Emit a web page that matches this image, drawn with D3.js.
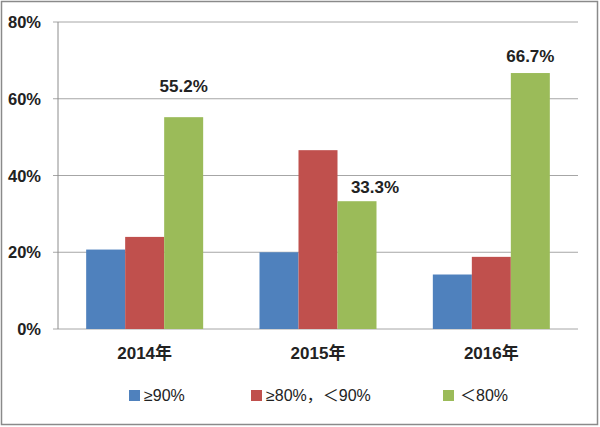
<!DOCTYPE html>
<html><head><meta charset="utf-8">
<script src="https://cdn.jsdelivr.net/npm/d3@7"></script>
<style>body{margin:0;background:#fff}svg{display:block}</style>
</head><body>
<script>
const categories = ["2014年", "2015年", "2016年"];
const seriesNames = ["≥90%", "≥80%，＜90%", "＜80%"];
const s90 = [20.7, 20.0, 14.2];
const s80to90 = [24.0, 46.6, 18.8];
const sBelow80 = [55.2, 33.3, 66.7];
const yTicks = [0, 20, 40, 60, 80];
const colors = ["#4F81BD", "#C0504D", "#9BBB59"];

(function () {
const W = 600, H = 427;
const svg = d3.select("body").append("svg").attr("width", W).attr("height", H);
svg.append("rect").attr("x", 1.5).attr("y", 1.5).attr("width", W - 4).attr("height", H - 4)
  .attr("fill", "#fff").attr("stroke", "#8a8a8a").attr("stroke-width", 1.5);

const mLeft = 58, mRight = 578, mTop = 22, mBottom = 329;
const x = d3.scaleBand().domain(categories).range([mLeft, mRight]).paddingInner(0).paddingOuter(0);
const y = d3.scaleLinear().domain([0, 80]).range([mBottom, mTop]);
const series = [s90, s80to90, sBelow80];
const groupW = x.bandwidth() * 0.675;
const xs = d3.scaleBand().domain(d3.range(3)).range([0, groupW]);
const font = "'Liberation Sans', 'Noto Sans CJK SC', sans-serif";

svg.append("g").selectAll("line").data(yTicks).join("line")
  .attr("x1", mLeft - 5).attr("x2", mRight).attr("y1", d => y(d)).attr("y2", d => y(d))
  .attr("stroke", "#a6a6a6").attr("stroke-width", 1);
svg.append("line").attr("x1", mLeft).attr("x2", mLeft).attr("y1", mTop).attr("y2", mBottom)
  .attr("stroke", "#8c8c8c").attr("stroke-width", 1);

svg.append("g").selectAll("text").data(yTicks).join("text")
  .attr("x", 41).attr("y", d => y(d) + 6).attr("text-anchor", "end")
  .attr("font-family", font).attr("font-weight", "bold")
  .attr("font-size", 16.5).attr("fill", "#222").text(d => d + "%");

series.forEach((vals, si) => {
  svg.append("g").selectAll("rect").data(vals).join("rect")
    .attr("x", (d, i) => x(categories[i]) + (x.bandwidth() - groupW) / 2 + xs(si))
    .attr("width", xs.bandwidth())
    .attr("y", d => y(d)).attr("height", d => mBottom - y(d))
    .attr("fill", colors[si]);
});

// data label placement (manually adjusted in the original chart)
const labDx = [0, 18, 0], labDy = [-25, -8, -11];
svg.append("g").selectAll("text").data(sBelow80).join("text")
  .attr("x", (d, i) => x(categories[i]) + (x.bandwidth() - groupW) / 2 + xs(2) + xs.bandwidth() / 2 + labDx[i])
  .attr("y", (d, i) => y(d) + labDy[i]).attr("text-anchor", "middle")
  .attr("font-family", font).attr("font-weight", "bold")
  .attr("font-size", 17).attr("fill", "#222").text(d => d.toFixed(1) + "%");

svg.append("g").selectAll("text").data(categories).join("text")
  .attr("x", d => x(d) + x.bandwidth() / 2).attr("y", 359).attr("text-anchor", "middle")
  .attr("font-family", font).attr("font-weight", "bold")
  .attr("font-size", 17).attr("fill", "#222").text(d => d);

const legX = [129, 251, 443];
const lg = svg.append("g").selectAll("g").data(seriesNames).join("g")
  .attr("transform", (d, i) => `translate(${legX[i]},390)`);
lg.append("rect").attr("width", 11).attr("height", 11).attr("fill", (d, i) => colors[i]);
lg.append("text").attr("x", (d, i) => i === 2 ? 17 : 15).attr("y", 11)
  .attr("font-family", font)
  .attr("font-size", 16).attr("fill", "#222").text(d => d);
})();
</script>
</body></html>
